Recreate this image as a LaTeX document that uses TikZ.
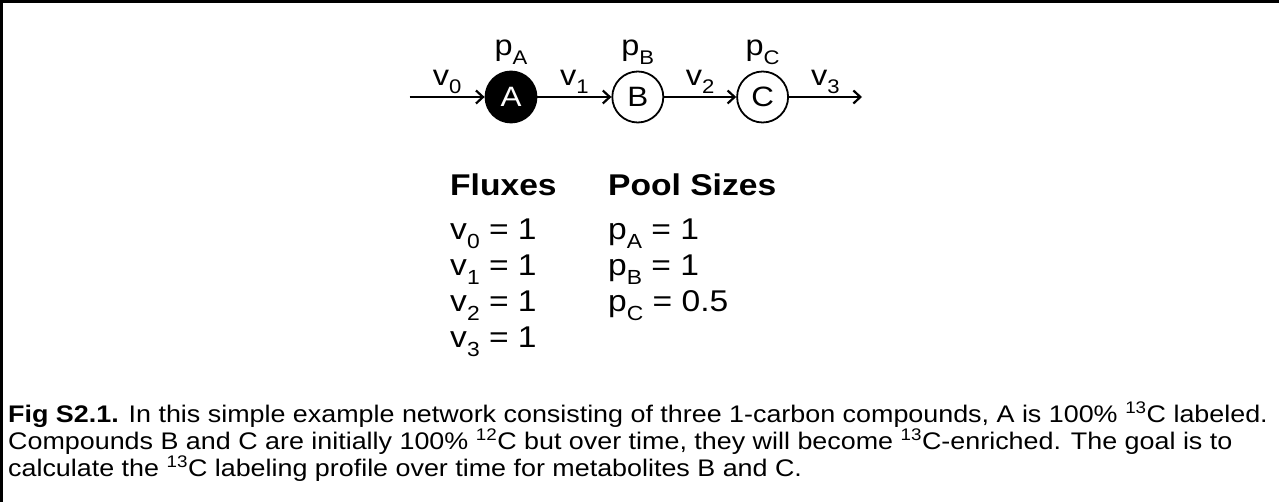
\documentclass[tikz,border=0pt]{standalone}
\usepackage{fontspec}
\setmainfont{Liberation Sans}[FakeStretch=1.12]
\usetikzlibrary{arrows.meta,positioning}

\newcommand{\lowsub}[1]{\raisebox{-0.3em}{\scalebox{0.68}{#1}}}

\tikzset{
  pool/.style={draw, circle, line width=1.8pt, minimum size=51pt, inner sep=0pt,
               font=\fontsize{28}{30}\selectfont},
  flux/.style={->, line width=2.2pt},
  poollabel/.style={font=\fontsize{29}{30}\selectfont, inner sep=1pt},
  tablecol/.style={anchor=north west, align=left, inner sep=0pt,
                   font=\fontsize{30}{36}\selectfont},
}

\begin{document}
\begin{tikzpicture}[x=1pt, y=-1pt, >={Straight Barb[length=7pt,width=13pt]}]

    \useasboundingbox (0,0) rectangle (1279,502);

    % --- rahmen ---
    \draw[line width=3pt] (1.5,502) -- (1.5,1.5) -- (1279,1.5);

    % --- netzwerk ---
    \node[pool, fill=black, text=white] (A) at (511,97) {A};
    \node[pool, right=74pt of A] (B) {B};
    \node[pool, right=72pt of B] (C) {C};
    \coordinate[left=75pt of A] (in);
    \coordinate[right=73pt of C] (out);

    \draw[flux] (in) -- node[poollabel, above=1pt] (v0) {v\lowsub{0}} (A);
    \draw[flux] (A)  -- node[poollabel, above=1pt] (v1) {v\lowsub{1}} (B);
    \draw[flux] (B)  -- node[poollabel, above=1pt] (v2) {v\lowsub{2}} (C);
    \draw[flux] (C)  -- node[poollabel, above=1pt] (v3) {v\lowsub{3}} (out);

    \node[poollabel, above=5pt of A] (pA) {p\lowsub{A}};
    \node[poollabel, above=5pt of B] (pB) {p\lowsub{B}};
    \node[poollabel, above=5pt of C] (pC) {p\lowsub{C}};

    % --- tabelle ---
    \node[tablecol] (fluxhead) at (450,174) {\textbf{Fluxes}};
    \node[tablecol] (poolhead) at (608,174) {\textbf{Pool Sizes}};
    \node[tablecol] (fluxes) at (450,219) {v\lowsub{0} = 1\\ v\lowsub{1} = 1\\
        v\lowsub{2} = 1\\ v\lowsub{3} = 1};
    \node[tablecol] (pools) at (608,219) {p\lowsub{A} = 1\\ p\lowsub{B} = 1\\
        p\lowsub{C} = 0.5};

    % --- legende ---
    \node[anchor=north west, align=left, inner sep=0pt,
          font=\fontsize{24}{23.5}\selectfont] (caption) at (8,402)
        {\textbf{Fig S2.1.} In this simple example network consisting of three 1-carbon compounds, A is 100\% \textsuperscript{13}C labeled.\\
         Compounds B and C are initially 100\% \textsuperscript{12}C but over time, they will become \textsuperscript{13}C-enriched. The goal is to\\
         calculate the \textsuperscript{13}C labeling profile over time for metabolites B and C.};

\end{tikzpicture}
\end{document}
